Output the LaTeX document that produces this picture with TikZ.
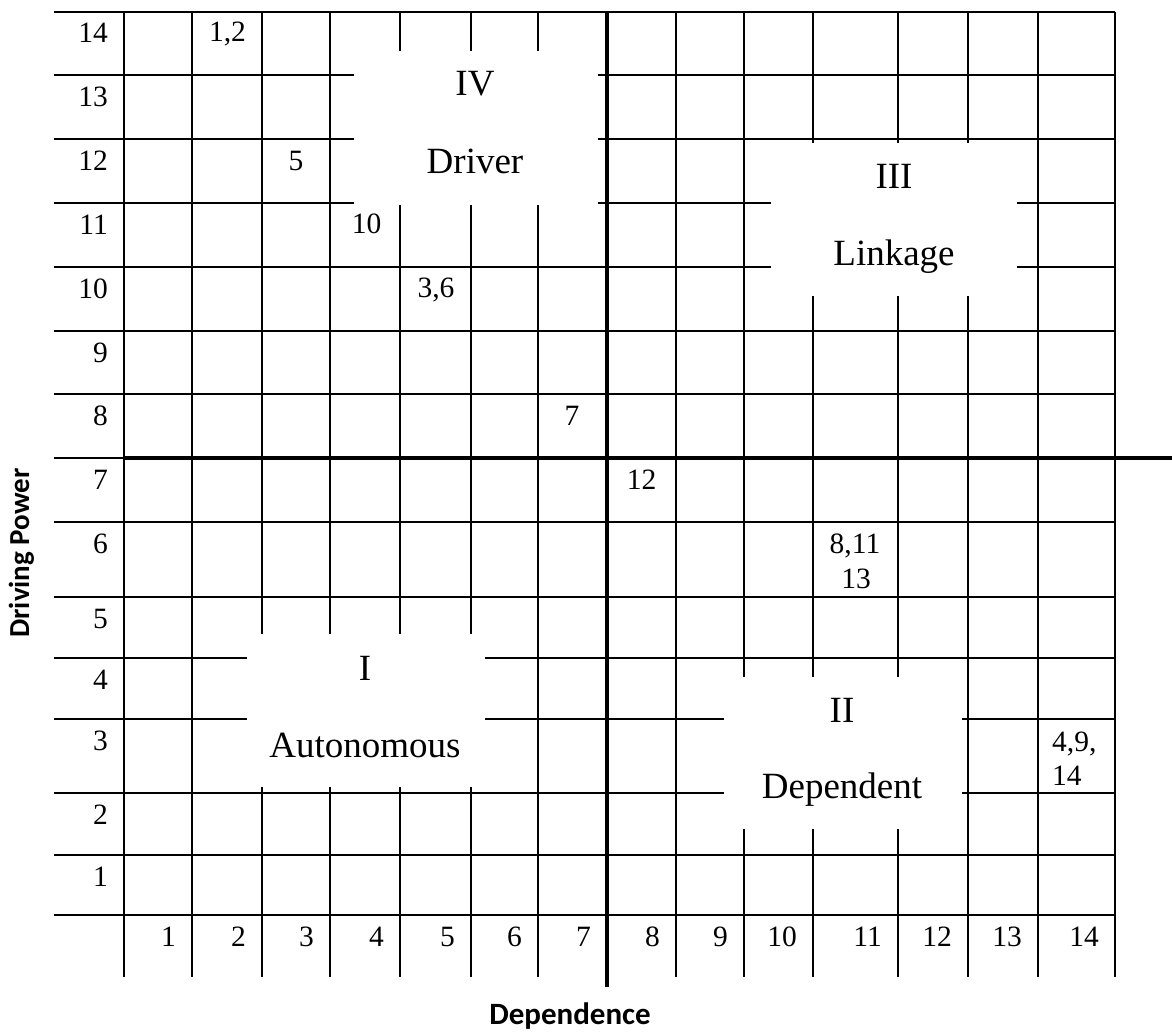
\documentclass[tikz,border=0pt]{standalone}
\usepackage{fontspec}
\setmainfont{Liberation Serif}
\newfontfamily\axisfont{Carlito}
\begin{document}
\begin{tikzpicture}[x=1pt,y=-1pt,
  thinline/.style={line width=1.8pt,black},
  thickline/.style={line width=3.6pt,black},
  blank/.style={fill=white,draw=none},
  cellnum/.style={inner sep=0pt,font=\fontsize{29.5}{35}\selectfont},
  quad/.style={inner sep=0pt,font=\fontsize{37}{44}\selectfont},
  axistitle/.style={inner sep=0pt,font=\axisfont\bfseries\fontsize{29}{34}\selectfont}]
\useasboundingbox (0,0) rectangle (1172,1033);
% grid
\foreach \x in {124,192,262,330,400,471,538,676,744,813,898,968,1038,1115}
  \draw[thinline] (\x,12) -- (\x,977);
\foreach \y in {12,75,139,203,267,331,394,522,597,658,719,793,855,915}
  \draw[thinline] (54,\y) -- (1115,\y);
\draw[thinline] (54,458) -- (124,458);
\draw[thickline] (124,458) -- (1172,458);
\draw[thickline] (607,12) -- (607,987);
% white label areas
\fill[blank] (354,51) rectangle (598,205);
\fill[blank] (771,143) rectangle (1017,296);
\fill[blank] (247,634) rectangle (485,787);
\fill[blank] (724,677) rectangle (962,829);
% row labels
\foreach \n/\t in {14/12,13/75,12/139,11/203,10/267,9/331,8/394,7/458,6/522,5/597,4/658,3/719,2/793,1/855}
  \node[cellnum,anchor=base east] (r\n) at (108,\t+31) {\n};
% column labels
\foreach \n/\r in {1/192,2/262,3/330,4/400,5/471,6/538,7/607,8/676,9/744,10/813,11/898,12/968,13/1038,14/1115}
  \node[cellnum,anchor=base east] (c\n) at (\r-16,946) {\n};
% data
\node[cellnum,anchor=base] (d12) at (227.5,42) {1,2};
\node[cellnum,anchor=base] (d5) at (296,170) {5};
\node[cellnum,anchor=base] (d10) at (366.5,233) {10};
\node[cellnum,anchor=base] (d36) at (436,297) {3,6};
\node[cellnum,anchor=base] (d7) at (572,425) {7};
\node[cellnum,anchor=base] (d12b) at (641.5,489) {12};
\node[cellnum,anchor=base] (d811) at (855,553) {8,11};
\node[cellnum,anchor=base] (d13) at (856,588) {13};
\node[cellnum,anchor=base west] (d49) at (1052,751) {4,9,};
\node[cellnum,anchor=base west] (d14) at (1052,785) {14};
% quadrant labels
\node[quad,anchor=base] (qIV) at (475,95) {IV};
\node[quad,anchor=base] (qIVt) at (475,173) {Driver};
\node[quad,anchor=base] (qIII) at (894,188) {III};
\node[quad,anchor=base] (qIIIt) at (894,265) {Linkage};
\node[quad,anchor=base] (qI) at (365,680) {I};
\node[quad,anchor=base] (qIt) at (365,757) {Autonomous};
\node[quad,anchor=base] (qII) at (842,722) {II};
\node[quad,anchor=base] (qIIt) at (842,798) {Dependent};
% axis titles
\node[axistitle,anchor=base,rotate=90] (yax) at (29,553) {Driving Power};
\node[axistitle,anchor=base,font=\axisfont\bfseries\fontsize{31}{37}\selectfont] (xax) at (570,1024) {Dependence};
\end{tikzpicture}
\end{document}
